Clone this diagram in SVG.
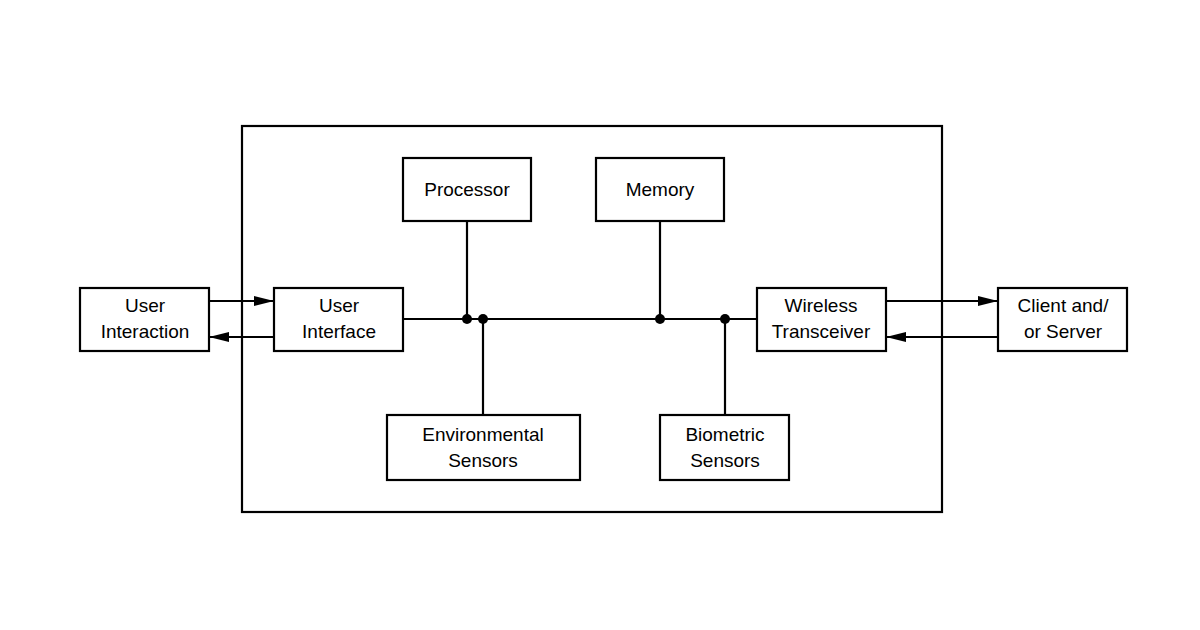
<svg xmlns="http://www.w3.org/2000/svg" width="1200" height="630" viewBox="0 0 1200 630">
<style>
rect{fill:#fff;stroke:#000;stroke-width:2.2}
text{font-family:"Liberation Sans",Arial,sans-serif;font-size:19px;text-anchor:middle;fill:#000}
.c line{stroke:#000;stroke-width:2.2}
.a{marker-end:url(#ah)}
</style>
<defs><marker id="ah" viewBox="0 0 10 10" refX="10" refY="5" markerWidth="10" markerHeight="10" markerUnits="userSpaceOnUse" orient="auto"><path d="M0,1 L10,5 L0,9 z" fill="#000"/></marker>
<marker id="ah2" viewBox="0 0 20 10" refX="20" refY="5" markerWidth="20" markerHeight="10" markerUnits="userSpaceOnUse" orient="auto"><path d="M0,0 L20,5 L0,10 z" fill="#000"/></marker></defs>
<rect x="242" y="126" width="700" height="386"/>
<g class="c">
<line x1="403" y1="319" x2="757" y2="319"/>
<line x1="467" y1="221" x2="467" y2="319"/>
<line x1="483" y1="319" x2="483" y2="415"/>
<line x1="660" y1="221" x2="660" y2="319"/>
<line x1="725" y1="319" x2="725" y2="415"/>
<line x1="209" y1="301" x2="274" y2="301" marker-end="url(#ah2)"/>
<line x1="274" y1="337" x2="209" y2="337" marker-end="url(#ah2)"/>
<line x1="886" y1="301" x2="998" y2="301" marker-end="url(#ah2)"/>
<line x1="998" y1="337" x2="886" y2="337" marker-end="url(#ah2)"/>
<circle cx="467" cy="319" r="5"/><circle cx="483" cy="319" r="5"/><circle cx="660" cy="319" r="5"/><circle cx="725" cy="319" r="5"/>
</g>
<g id="processor"><rect x="403" y="158" width="128" height="63"/><text x="467" y="196">Processor</text></g>
<g id="memory"><rect x="596" y="158" width="128" height="63"/><text x="660" y="196">Memory</text></g>
<g id="user-interaction"><rect x="80" y="288" width="129" height="63"/><text x="145" y="312">User</text><text x="145" y="338">Interaction</text></g>
<g id="user-interface"><rect x="274" y="288" width="129" height="63"/><text x="339" y="312">User</text><text x="339" y="338">Interface</text></g>
<g id="wireless"><rect x="757" y="288" width="129" height="63"/><text x="821" y="312">Wireless</text><text x="821" y="338">Transceiver</text></g>
<g id="client"><rect x="998" y="288" width="129" height="63"/><text x="1063" y="312">Client and/</text><text x="1063" y="338">or Server</text></g>
<g id="environmental"><rect x="387" y="415" width="193" height="65"/><text x="483" y="441">Environmental</text><text x="483" y="467">Sensors</text></g>
<g id="biometric"><rect x="660" y="415" width="129" height="65"/><text x="725" y="441">Biometric</text><text x="725" y="467">Sensors</text></g>
</svg>
